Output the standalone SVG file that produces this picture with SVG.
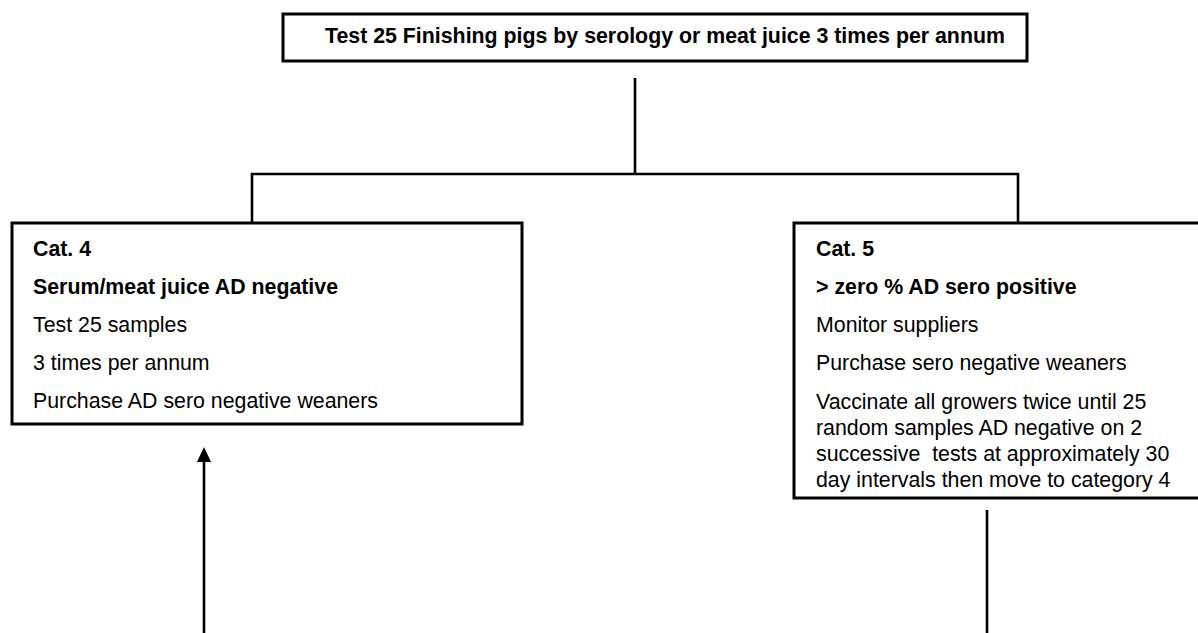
<svg xmlns="http://www.w3.org/2000/svg" width="1198" height="633" viewBox="0 0 1198 633">
<style>
.box{fill:#fff;stroke:#000;stroke-width:3}
.ln{fill:none;stroke:#000;stroke-width:2.6}
text{font-family:"Liberation Sans",Arial,sans-serif;font-size:21.33px;fill:#000}
.b{font-weight:bold}
</style>
<rect width="1198" height="633" fill="#fff"/>
<g id="connectors">
<line class="ln" x1="635" y1="78" x2="635" y2="174"/>
<polyline class="ln" points="252,223 252,174 1018,174 1018,223"/>
<line class="ln" x1="204" y1="633" x2="204" y2="460"/>
<path d="M204 447 L211 462 L197 462 Z" fill="#000"/>
<line class="ln" x1="987" y1="510" x2="987" y2="633"/>
</g>
<g id="top">
<rect class="box" x="283" y="14" width="744" height="47"/>
<text class="b" x="325" y="43">Test 25 Finishing pigs by serology or meat juice 3 times per annum</text>
</g>
<g id="cat4">
<rect class="box" x="12" y="223" width="510" height="201"/>
<text class="b" x="33" y="256">Cat. 4</text>
<text class="b" x="33" y="294">Serum/meat juice AD negative</text>
<text x="33" y="332">Test 25 samples</text>
<text x="33" y="370">3 times per annum</text>
<text x="33" y="408">Purchase AD sero negative weaners</text>
</g>
<g id="cat5">
<rect class="box" x="794" y="223" width="406" height="275"/>
<text class="b" x="816" y="256">Cat. 5</text>
<text class="b" x="816" y="294">&gt; zero % AD sero positive</text>
<text x="816" y="332">Monitor suppliers</text>
<text x="816" y="370">Purchase sero negative weaners</text>
<text x="816" y="409">Vaccinate all growers twice until 25</text>
<text x="816" y="435">random samples AD negative on 2</text>
<text x="816" y="461" xml:space="preserve">successive  tests at approximately 30</text>
<text x="816" y="487">day intervals then move to category 4</text>
</g>
</svg>
